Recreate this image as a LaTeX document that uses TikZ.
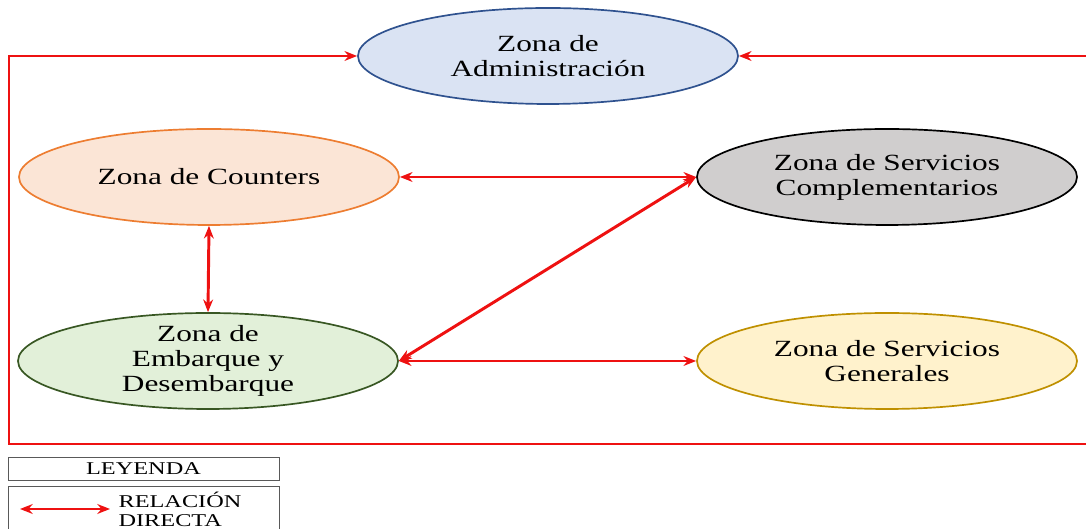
\documentclass[tikz,border=0pt]{standalone}
\usepackage{fontspec}
\setmainfont{Liberation Serif}[FakeStretch=1.35]
\usepackage{tikz}
\usetikzlibrary{calc}
\usetikzlibrary{shapes.geometric, arrows.meta}
\definecolor{admfill}{HTML}{DAE3F3}
\definecolor{admline}{HTML}{2F528F}
\definecolor{coufill}{HTML}{FBE5D6}
\definecolor{couline}{HTML}{ED7D31}
\definecolor{comfill}{HTML}{D0CECE}
\definecolor{embfill}{HTML}{E2F0D9}
\definecolor{embline}{HTML}{385723}
\definecolor{genfill}{HTML}{FFF2CC}
\definecolor{genline}{HTML}{BF9000}
\definecolor{relred}{HTML}{EE1111}
\tikzset{
ZN/.style = {ellipse,
        line width=1.2pt,
        minimum width=9.5cm,
        minimum height=2.4cm,
        inner xsep=0pt, inner ysep=-0.12cm,
        align=center,
        font=\fontsize{16.5}{17.8}\selectfont
            },
REL/.style = {line width=2.1pt,
        relred,
        {Stealth[length=9pt,width=7pt]}-%
        {Stealth[length=9pt,width=7pt]}
            },
LEG/.style = {draw=black!65, line width=0.7pt}
        }

\begin{document}
\begin{tikzpicture}

%%% Defining points:

\useasboundingbox (0,0) rectangle (27.15,13.225);

\coordinate (CADM) at (13.7,11.825);
\coordinate (CCOU) at (5.225,8.8);
\coordinate (CCOM) at (22.175,8.8);
\coordinate (CEMB) at (5.2,4.2);
\coordinate (CGEN) at (22.175,4.2);

\coordinate (FTL) at (0.225,11.825);
\coordinate (FBL) at (0.225,2.125);
\coordinate (FBR) at (27.4,2.125);
\coordinate (FTR) at (27.4,11.825);

%%% Zones:

\node[ZN, draw=admline, fill=admfill] (ADM) at (CADM) {Zona de\\Administración};
\node[ZN, draw=couline, fill=coufill] (COU) at (CCOU) {Zona de Counters};
\node[ZN, draw=black, fill=comfill] (COM) at (CCOM) {Zona de Servicios\\Complementarios};
\node[ZN, draw=embline, fill=embfill] (EMB) at (CEMB) {Zona de\\Embarque y\\Desembarque};
\node[ZN, draw=genline, fill=genfill] (GEN) at (CGEN) {Zona de Servicios\\Generales};

%%% Relations:

\draw[REL] (ADM.west) -- (FTL) -- (FBL) -- (FBR) -- (FTR) -- (ADM.east);

\draw[REL] (COU.east) -- (COM.west);
\draw[REL] (COU.south) -- (EMB.north);
\draw[REL] (EMB.east) -- (COM.west);
\draw[REL] (EMB.east) -- (GEN.west);

%%% Legend:

\node[LEG, rectangle, minimum width=6.775cm, minimum height=0.575cm,
      inner sep=0pt, font=\fontsize{12.8}{12}\selectfont]
      (LEY) at (3.5875,1.5125) {LEYENDA};

\draw[LEG] (0.2,-0.3) rectangle (6.975,1.075);

\coordinate (LA1) at (0.5,0.5);
\coordinate (LA2) at (2.75,0.5);
\draw[REL, line width=1.6pt] (LA1) -- (LA2);

\node[align=left, inner sep=0pt, font=\fontsize{12.8}{13.5}\selectfont]
      (RELTXT) at (4.5,0.5) {RELACIÓN\\DIRECTA};

\end{tikzpicture}
\end{document}
